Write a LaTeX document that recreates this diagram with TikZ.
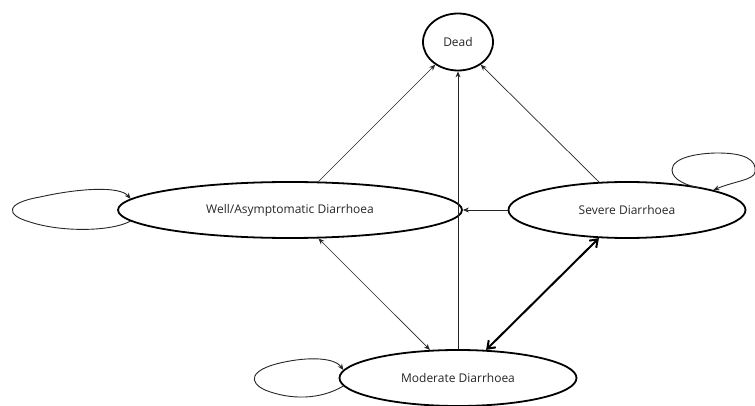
\documentclass[tikz,border=0pt]{standalone}
\usepackage{fontspec}
\setmainfont{Open Sans}
\usetikzlibrary{shapes.geometric,arrows.meta}
\begin{document}
\begin{tikzpicture}[x=1pt,y=-1pt,
  state/.style={draw=black,line width=1.8pt,ellipse,inner sep=0pt,font=\fontsize{12}{14}\selectfont,text=black!85},
  edge/.style={draw=black!85,line width=0.7pt,-{Stealth[length=6pt,width=5pt]}},
  bedge/.style={draw=black!85,line width=0.7pt,{Stealth[length=6pt,width=5pt]}-{Stealth[length=6pt,width=5pt]}},
  tedge/.style={draw=black,line width=2pt,{Straight Barb[length=7pt,width=10pt]}-{Straight Barb[length=7pt,width=10pt]}},
  loopedge/.style={draw=black!85,line width=0.9pt,-{Stealth[length=6pt,width=5pt]}}]
\useasboundingbox (0,0) rectangle (755,406);
\node[state,minimum width=70pt,minimum height=57pt] (dead) at (458,42) {Dead};
\node[state,minimum width=344pt,minimum height=56pt] (well) at (290,210) {Well/Asymptomatic Diarrhoea};
\node[state,minimum width=237pt,minimum height=56pt] (severe) at (627,210) {Severe Diarrhoea};
\node[state,minimum width=237pt,minimum height=56pt] (moderate) at (458,378) {Moderate Diarrhoea};
% edges to Dead
\draw[edge] (well.45) -- (dead.225);
\draw[edge,line width=1pt] (moderate.north) -- (dead.south);
\draw[edge] (severe.135) -- (dead.315);
% Severe -> Well
\draw[edge] (severe.west) -- (well.east);
% Well <-> Moderate
\draw[bedge] (well.-45) -- (moderate.135);
% Severe <-> Moderate
\draw[tedge] (severe.225) -- (moderate.45);
% self loops
\draw[loopedge] (well.184) .. controls (110,232) and (60,232) .. (30,222)
  .. controls (5,215) and (5,203) .. (40,197)
  .. controls (80,188) and (120,186) .. (well.176);
\draw[loopedge] (moderate.184) .. controls (320,400) and (290,400) .. (265,390)
  .. controls (248,382) and (250,370) .. (280,363)
  .. controls (310,356) and (335,358) .. (moderate.176);
\coordinate (sl) at (700,188);
\draw[loopedge] (sl) .. controls (688,186) and (672,180) .. (672,170)
  .. controls (672,157) and (700,153) .. (718,153)
  .. controls (745,153) and (757,160) .. (755,172)
  .. controls (754,180) and (735,181) .. (severe.13);
\end{tikzpicture}
\end{document}
